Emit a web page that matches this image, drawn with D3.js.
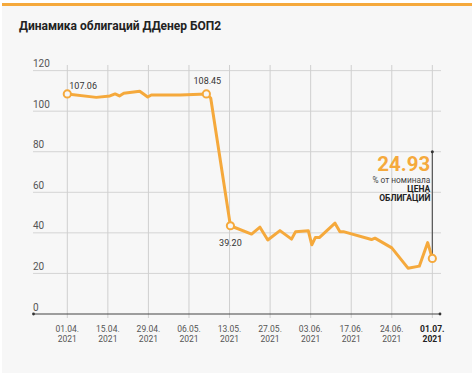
<!DOCTYPE html>
<html><head><meta charset="utf-8">
<script src="https://cdn.jsdelivr.net/npm/d3@7"></script>
<style>
html,body{margin:0;padding:0;background:#fff;}
svg{display:block;font-family:Roboto,"Noto Sans",sans-serif;}
</style></head>
<body><svg id="c" width="474" height="375"></svg>
<script>
// ---- data ----
const title = "Динамика облигаций ДДенер БОП2";
const tickLabels = ["01.04.","15.04.","29.04.","06.05.","13.05.","27.05.","03.06.","17.06.","24.06.","01.07."];
const tickYear = "2021";
const tickDays = [0,14,28,35,42,56,63,77,84,91]; // days since 01.04.2021
const yTicks = [0,20,40,60,80,100,120];
// price, % of nominal, by day since 01.04.2021
const days   = [0,10,14.7,16.5,18,19.5,25,27.75,28.5,33.5,38,38.75,42.3,49.6,52.5,55.2,57.7,59.7,60.4,62.6,63.4,64.6,66,71.4,73.1,74.3,80.5,81.1,84,86.8,88.75,90.2,91];
const prices = [108.5,106.8,107.5,108.5,107.5,108.8,109.8,107.0,108.0,108.0,108.5,106.5,43.5,39.4,42.8,36.5,41.1,36.9,40.6,41.0,34.1,37.7,37.7,44.8,40.6,40.6,36.7,37.4,32.6,22.6,23.6,35.2,27.4];
const markedIdx = [0,10,12,32];
const markLabels = ["107.06","108.45","39.20",""];
const lastValue = "24.93";
const lastNote = "% от номинала";
const lastTitle = ["ЦЕНА","ОБЛИГАЦИЙ"];

// ---- drawing ----
const svg = d3.select("#c");
const orange = "#f5a93c";
svg.append("rect").attr("x",2).attr("y",3).attr("width",470).attr("height",370).attr("fill","#f7f7f7");
svg.append("rect").attr("x",2).attr("y",3).attr("width",470).attr("height",3).attr("fill",orange);
svg.append("text").attr("x",19).attr("y",30).attr("font-size",12).attr("font-weight",700).attr("fill","#222").text(title);

const x0 = 67.3, step = 40.56;
const x = d3.scaleLinear().domain(tickDays).range(tickDays.map((d,i)=>x0+i*step));
const y = d3.scaleLinear().domain([0,120]).range([314,70.6]);

const g = svg.append("g");
// horizontal grid
g.selectAll(".hg").data(yTicks.filter(v=>v>0)).join("line")
  .attr("x1",33).attr("x2",441).attr("y1",d=>y(d)).attr("y2",d=>y(d))
  .attr("stroke","#d4d4d4").attr("stroke-width",1);
g.selectAll(".yl").data(yTicks).join("text")
  .attr("x",33).attr("y",d=>y(d)-3.5).attr("font-size",10).attr("fill","#555").text(d=>d);
// vertical grid
g.selectAll(".vg").data(tickDays).join("line")
  .attr("x1",d=>x(d)).attr("x2",d=>x(d)).attr("y1",65).attr("y2",318)
  .attr("stroke","#cfcfcf").attr("stroke-width",1);
// x axis line
g.append("line").attr("x1",33).attr("x2",440).attr("y1",y(0)).attr("y2",y(0)).attr("stroke","#444").attr("stroke-width",1.2);
g.append("circle").attr("cx",33.5).attr("cy",y(0)).attr("r",1.4).attr("fill","#333");
g.append("circle").attr("cx",440).attr("cy",y(0)).attr("r",1.4).attr("fill","#333");
// tick labels
const tl = g.selectAll(".tl").data(tickDays).join("text")
  .attr("text-anchor","middle").attr("font-size",8.5)
  .attr("font-weight",(d,i)=>i===tickDays.length-1?700:400)
  .attr("fill",(d,i)=>i===tickDays.length-1?"#222":"#555");
tl.append("tspan").attr("x",d=>x(d)).attr("y",332).text((d,i)=>tickLabels[i]);
tl.append("tspan").attr("x",d=>x(d)).attr("y",342).text(tickYear);

// annotation line
const lastX = x(days[days.length-1]);
g.append("line").attr("x1",lastX).attr("x2",lastX).attr("y1",y(80)).attr("y2",y(prices[prices.length-1])-3)
  .attr("stroke","#555").attr("stroke-width",1.2);
g.append("circle").attr("cx",lastX).attr("cy",y(80)).attr("r",1.5).attr("fill","#333");

// line
const pts = days.map((d,i)=>[d,prices[i]]);
g.append("path").datum(pts)
  .attr("d",d3.line().x(d=>x(d[0])).y(d=>y(d[1])))
  .attr("fill","none").attr("stroke",orange).attr("stroke-width",3)
  .attr("stroke-linejoin","round").attr("stroke-linecap","round");
g.selectAll(".mk").data(markedIdx).join("circle")
  .attr("cx",i=>x(days[i])).attr("cy",i=>y(prices[i])).attr("r",3.6)
  .attr("fill","#f7f7f7").attr("stroke",orange).attr("stroke-width",2);

// point labels
const lab = [
  {i:0, dx:2, dy:-5, anchor:"start"},
  {i:1, dx:1, dy:-10, anchor:"middle"},
  {i:2, dx:0, dy:20, anchor:"middle"}
];
g.selectAll(".pl").data(lab).join("text")
  .attr("x",d=>x(days[markedIdx[d.i]])+d.dx).attr("y",d=>y(prices[markedIdx[d.i]])+d.dy)
  .attr("text-anchor",d=>d.anchor).attr("font-size",9).attr("fill","#333")
  .text(d=>markLabels[d.i]);

// last value annotation
const ax = lastX - 2;
g.append("text").attr("x",ax).attr("y",170.5).attr("text-anchor","end").attr("font-size",20.5).attr("font-weight",700).attr("fill",orange).text(lastValue);
g.append("text").attr("x",ax).attr("y",182.5).attr("text-anchor","end").attr("font-size",8.3).attr("fill","#444").text(lastNote);
g.append("text").attr("x",ax).attr("y",191.5).attr("text-anchor","end").attr("font-size",8.5).attr("font-weight",700).attr("fill","#222").text(lastTitle[0]);
g.append("text").attr("x",ax).attr("y",200.5).attr("text-anchor","end").attr("font-size",8.5).attr("font-weight",700).attr("fill","#222").text(lastTitle[1]);
</script></body></html>
